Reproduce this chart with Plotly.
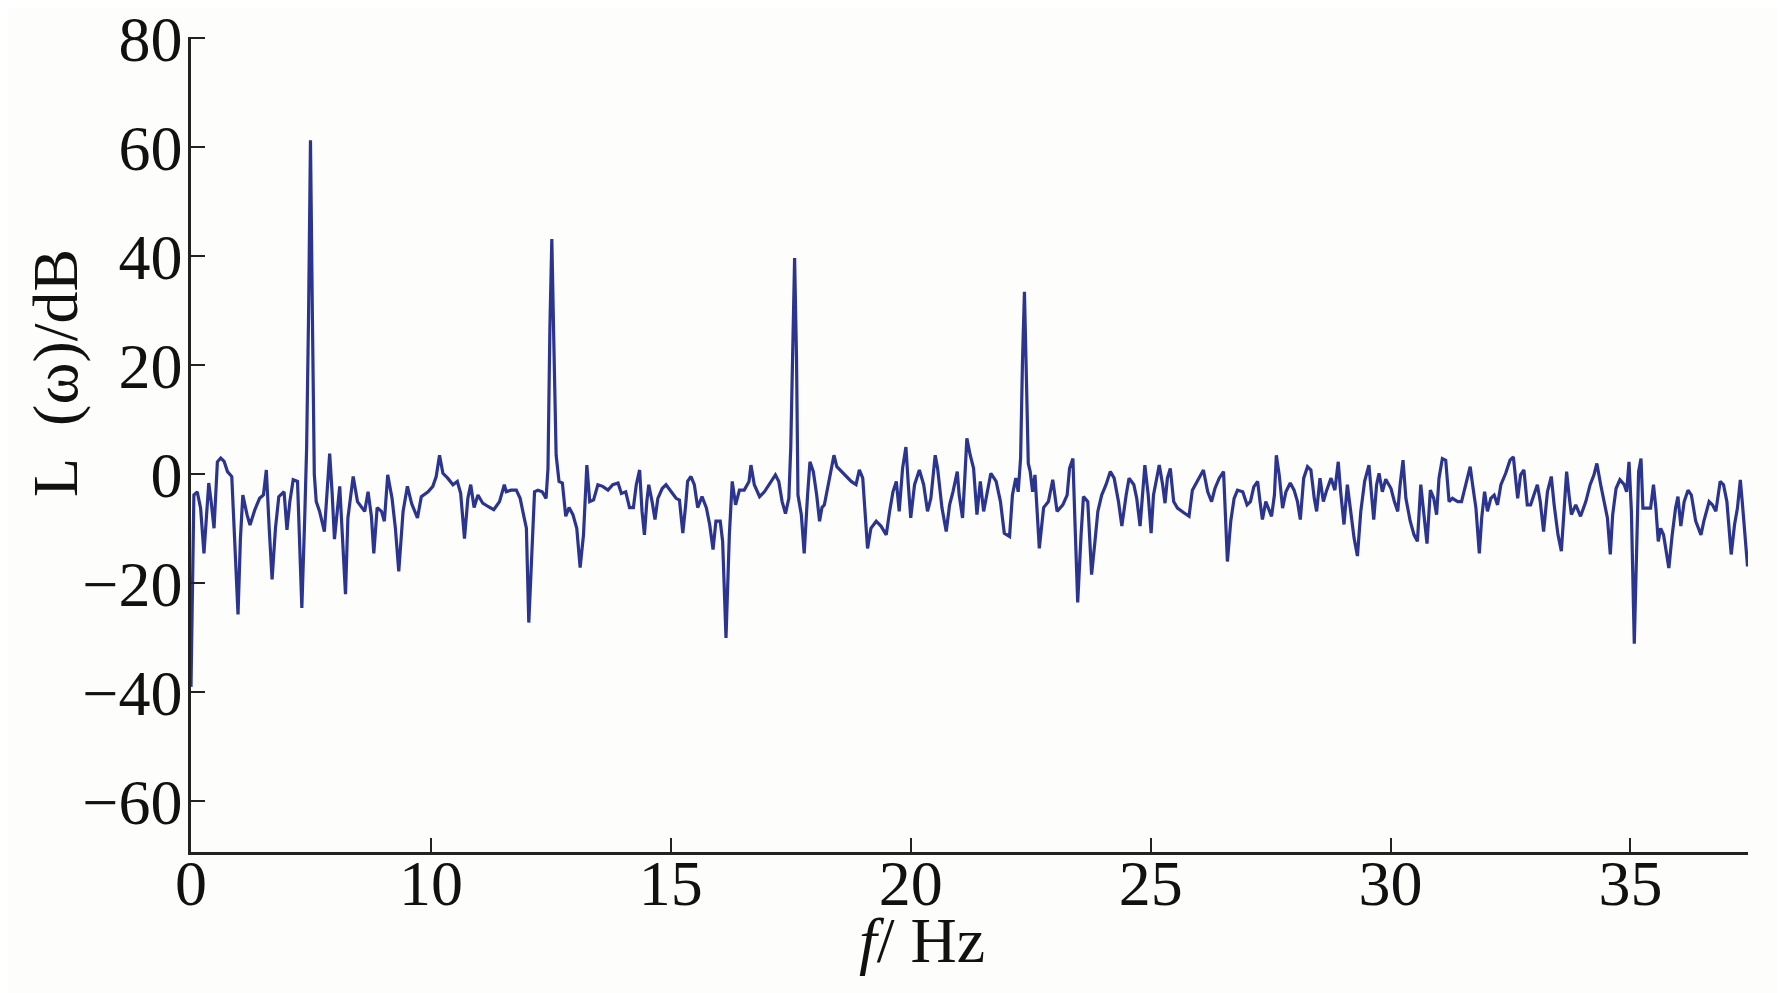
import plotly.graph_objects as go

# Frequency (Hz, linear axis positions) and level L(ω) in dB
freq_hz = [
    5.00, 5.06, 5.13, 5.20, 5.27, 5.32, 5.37, 5.42, 5.48, 5.55, 5.62, 5.69, 5.76, 5.85, 5.91, 5.98,
    6.03, 6.08, 6.17, 6.23, 6.33, 6.43, 6.51, 6.57, 6.63, 6.69, 6.76, 6.83, 6.94, 7.00, 7.06, 7.13,
    7.22, 7.26, 7.31, 7.37, 7.41, 7.45, 7.49, 7.53, 7.57, 7.61, 7.68, 7.78, 7.89, 7.94, 7.99, 8.10,
    8.15, 8.22, 8.27, 8.38, 8.47, 8.55, 8.62, 8.69, 8.76, 8.81, 8.88, 8.97, 9.03, 9.10, 9.19, 9.26,
    9.33, 9.42, 9.51, 9.60, 9.72, 9.80, 9.94, 10.04, 10.11, 10.18, 10.25, 10.35, 10.46, 10.55, 10.62,
    10.70, 10.77, 10.83, 10.90, 10.98, 11.08, 11.19, 11.31, 11.43, 11.53, 11.57, 11.67, 11.78, 11.86,
    11.93, 11.99, 12.04, 12.11, 12.16, 12.23, 12.32, 12.40, 12.44, 12.48, 12.52, 12.56, 12.61, 12.67,
    12.74, 12.81, 12.88, 12.96, 13.04, 13.11, 13.18, 13.25, 13.31, 13.39, 13.48, 13.58, 13.69, 13.79,
    13.90, 13.97, 14.06, 14.14, 14.22, 14.28, 14.35, 14.40, 14.45, 14.50, 14.54, 14.61, 14.67, 14.73,
    14.82, 14.90, 15.01, 15.11, 15.18, 15.25, 15.31, 15.35, 15.42, 15.49, 15.56, 15.65, 15.74, 15.81,
    15.88, 15.94, 16.03, 16.08, 16.15, 16.22, 16.28, 16.35, 16.43, 16.53, 16.63, 16.67, 16.74, 16.85,
    16.95, 17.06, 17.18, 17.25, 17.32, 17.39, 17.46, 17.50, 17.54, 17.58, 17.62, 17.65, 17.72, 17.78,
    17.85, 17.90, 17.97, 18.04, 18.10, 18.15, 18.20, 18.31, 18.40, 18.46, 18.56, 18.67, 18.76, 18.86,
    18.93, 19.00, 19.05, 19.10, 19.17, 19.28, 19.38, 19.49, 19.56, 19.63, 19.70, 19.76, 19.83, 19.90,
    19.95, 20.00, 20.08, 20.18, 20.27, 20.35, 20.42, 20.51, 20.56, 20.65, 20.74, 20.81, 20.88, 20.97,
    21.01, 21.08, 21.12, 21.17, 21.24, 21.31, 21.38, 21.45, 21.52, 21.59, 21.67, 21.78, 21.87, 21.95,
    22.06, 22.12, 22.19, 22.24, 22.29, 22.33, 22.37, 22.41, 22.45, 22.49, 22.54, 22.59, 22.68, 22.77,
    22.87, 22.96, 23.05, 23.17, 23.26, 23.31, 23.38, 23.42, 23.48, 23.55, 23.60, 23.69, 23.77, 23.84,
    23.90, 23.98, 24.07, 24.16, 24.24, 24.33, 24.40, 24.49, 24.55, 24.65, 24.71, 24.78, 24.83, 24.88,
    24.95, 25.01, 25.06, 25.13, 25.18, 25.25, 25.30, 25.35, 25.41, 25.48, 25.56, 25.70, 25.80, 25.87,
    25.98, 26.10, 26.19, 26.27, 26.34, 26.43, 26.52, 26.57, 26.60, 26.67, 26.74, 26.81, 26.92, 27.01,
    27.08, 27.15, 27.23, 27.28, 27.33, 27.40, 27.45, 27.52, 27.58, 27.62, 27.68, 27.75, 27.82, 27.91,
    27.99, 28.06, 28.12, 28.19, 28.27, 28.34, 28.41, 28.46, 28.53, 28.60, 28.67, 28.76, 28.84, 28.91,
    28.96, 29.03, 29.10, 29.17, 29.24, 29.31, 29.38, 29.46, 29.55, 29.65, 29.71, 29.76, 29.83, 29.90,
    30.01, 30.08, 30.15, 30.20, 30.26, 30.32, 30.41, 30.49, 30.56, 30.63, 30.69, 30.76, 30.83, 30.90,
    30.96, 31.01, 31.08, 31.15, 31.22, 31.29, 31.40, 31.48, 31.53, 31.60, 31.66, 31.71, 31.78, 31.85,
    31.90, 31.96, 32.02, 32.09, 32.16, 32.23, 32.30, 32.40, 32.49, 32.56, 32.65, 32.71, 32.78, 32.85,
    32.92, 33.01, 33.06, 33.12, 33.19, 33.27, 33.35, 33.41, 33.49, 33.56, 33.62, 33.67, 33.72, 33.77,
    33.86, 33.96, 34.07, 34.16, 34.24, 34.30, 34.38, 34.45, 34.52, 34.58, 34.63, 34.70, 34.78, 34.87,
    34.92, 34.97, 35.02, 35.08, 35.13, 35.17, 35.22, 35.26, 35.34, 35.42, 35.48, 35.53, 35.58, 35.63,
    35.69, 35.76, 35.80, 35.87, 35.94, 35.99, 36.05, 36.12, 36.20, 36.27, 36.36, 36.47, 36.53, 36.64,
    36.71, 36.78, 36.87, 36.94, 37.01, 37.10, 37.17, 37.23, 37.29, 37.33, 37.40, 37.44,
]
level_db = [
    -39.0, -3.8, -3.2, -6.2, -14.5, -6.8, -1.6, -5.0, -9.9, 2.3, 3.0, 2.4, 0.5, -0.4, -12.3, -25.7,
    -11.8, -3.8, -7.5, -9.3, -6.5, -4.4, -3.8, 0.8, -9.9, -19.3, -9.9, -4.1, -3.2, -10.2, -5.0, -1.0,
    -1.3, -12.3, -24.5, -8.0, 5.0, 29.0, 61.3, 29.0, 0.0, -5.0, -6.8, -10.5, 3.8, -3.2, -11.9, -2.2,
    -9.9, -22.0, -8.0, -0.4, -5.0, -5.9, -6.8, -3.2, -7.7, -14.5, -6.1, -6.8, -8.6, -0.1, -4.4, -9.9,
    -17.8, -6.8, -2.2, -5.4, -8.0, -4.1, -3.2, -2.2, -0.4, 3.5, 0.2, -0.7, -1.9, -1.3, -3.5,
    -11.8, -4.4, -1.9, -6.1, -3.8, -5.3, -5.9, -6.5, -5.0, -1.9, -3.2, -2.9, -2.9, -4.4,
    -7.4, -9.9, -27.2, -12.3, -3.2, -2.9, -3.2, -4.4, 1.1, 27.0, 43.2, 25.0, 3.5, -1.3,
    -1.6, -7.7, -6.1, -7.4, -9.9, -17.1, -11.1, 1.7, -5.0, -4.7, -1.9, -2.2, -2.9, -1.9,
    -1.6, -3.5, -3.2, -6.1, -6.1, -1.9, 0.8, -6.8, -11.1, -5.0, -1.9, -5.0, -8.3, -4.4,
    -2.6, -1.9, -3.2, -4.4, -4.7, -10.8, -5.6, -1.3, -0.4, -1.9, -6.1, -4.1, -6.1, -9.2,
    -13.8, -8.6, -8.6, -12.3, -30.0, -11.1, -1.3, -5.6, -2.9, -2.9, -1.3, 1.7, -1.9, -4.1,
    -3.2, -1.6, -0.1, -1.3, -5.0, -7.2, -4.4, 5.0, 24.0, 39.7, 21.0, -3.8, -7.4, -14.5,
    -3.8, 2.3, 0.5, -3.8, -8.6, -6.1, -5.6, -0.7, 3.5, 1.4, 0.5, -0.4, -1.3, -1.9,
    0.8, -0.7, -8.0, -13.6, -9.9, -8.6, -9.5, -11.1, -6.8, -3.2, -1.3, -6.8, 1.1, 5.0,
    -1.9, -8.0, -1.9, 0.8, -1.9, -6.8, -4.4, 3.5, 1.1, -6.1, -10.5, -5.6, -3.2, 0.5,
    -3.8, -8.0, -1.9, 6.6, 3.5, 1.1, -7.4, -1.3, -6.8, -3.2, 0.2, -1.3, -5.0, -10.8,
    -11.4, -3.8, -0.7, -3.2, 3.0, 21.0, 33.5, 18.0, 2.0, 0.5, -3.2, -0.1, -13.6, -6.1,
    -5.0, -1.0, -6.8, -5.6, -3.8, 1.1, 2.9, -8.0, -23.5, -11.1, -4.1, -5.0, -18.4, -12.3,
    -6.8, -3.8, -1.9, 0.5, -0.7, -5.0, -9.5, -3.8, -0.7, -1.9, -4.4, -9.5, -3.8, 1.7,
    -3.8, -10.8, -3.8, -0.1, 1.7, -1.9, -5.3, -0.7, 1.1, -5.0, -6.2, -7.1, -7.7, -2.9,
    -1.0, 0.8, -3.2, -5.0, -2.6, -0.7, 0.5, -11.1, -16.0, -8.6, -4.4, -2.9, -3.2, -5.6,
    -5.0, -2.3, -1.3, -5.0, -8.3, -5.0, -6.2, -7.7, -3.8, 3.5, -0.1, -6.2, -3.2, -1.6,
    -2.9, -5.0, -8.3, -0.7, 1.4, 0.8, -4.4, -6.8, -0.7, -5.0, -2.9, -0.7, -2.9, 2.3,
    -3.2, -9.2, -1.9, -6.8, -11.7, -15.0, -6.8, -1.3, 1.7, -8.3, -1.9, 0.2, -3.2, -0.9,
    -2.6, -5.0, -6.8, -1.9, 2.6, -4.4, -8.6, -11.1, -12.3, -1.9, -6.8, -12.7, -2.9, -4.4,
    -7.4, -0.7, 2.9, 2.6, -5.0, -4.4, -5.0, -5.0, -3.2, -1.0, 1.4, -1.9, -6.2, -14.5,
    -8.0, -3.2, -6.8, -4.4, -3.8, -5.6, -1.9, 0.2, 2.6, 3.2, -4.4, -0.1, 0.8, -5.6,
    -5.6, -3.2, -1.9, -5.0, -10.5, -3.2, -0.4, -5.6, -11.1, -14.1, -6.8, 0.5, -3.8, -7.4,
    -5.6, -7.7, -5.0, -1.9, -0.1, 2.0, -1.9, -5.0, -8.0, -14.7, -7.4, -2.6, -1.0, -1.9,
    -3.2, 2.3, -6.8, -31.1, -15.3, 0.5, 2.9, -6.2, -6.2, -6.2, -1.9, -6.2, -12.3, -9.9,
    -11.1, -14.7, -17.2, -11.1, -6.2, -4.1, -9.5, -5.0, -2.9, -3.8, -8.6, -11.1, -8.6, -5.0,
    -5.6, -6.8, -1.3, -1.9, -5.0, -14.7, -9.2, -6.2, -1.0, -5.0, -12.3, -16.9,
]

x_tick_vals = [5, 10, 15, 20, 25, 30, 35]
x_tick_text = ["0", "10", "15", "20", "25", "30", "35"]
y_tick_vals = [-60, -40, -20, 0, 20, 40, 60, 80]
x_title = "<i>f</i>/ Hz"
y_title = "L\u2002(ω)/dB"

FONT = "Liberation Serif, Times New Roman, serif"
FS = 64

# target plot box in page pixels (page has an 8px body margin)
BODY = 8
PL, PR, PT, PB = 191, 1748, 37, 852
W, H = 1786, 993

fig = go.Figure()
fig.add_trace(go.Scatter(
    x=freq_hz, y=level_db, mode="lines",
    line=dict(color="#2b3590", width=3.2),
    showlegend=False, hoverinfo="skip",
))

fig.update_layout(
    width=W, height=H,
    paper_bgcolor="#fdfdfb", plot_bgcolor="#fdfdfb",
    margin=dict(l=PL - BODY, r=W + BODY - PR, t=PT - BODY, b=H + BODY - PB),
    font=dict(family=FONT, color="#111111", size=FS),
)
fig.update_xaxes(
    range=[5, 37.45], tickmode="array", tickvals=x_tick_vals, ticktext=x_tick_text,
    showgrid=False, zeroline=False, showline=True, linecolor="#222222", linewidth=2.5,
    ticks="inside", ticklen=14, tickwidth=2, tickcolor="#222222",
    tickfont=dict(family=FONT, size=FS), automargin=False, ticklabelstandoff=-27,
    ticklabeloverflow="allow",
)
fig.update_yaxes(
    range=[-69.3, 80.25], tickmode="array", tickvals=y_tick_vals,
    showgrid=False, zeroline=False, showline=True, linecolor="#222222", linewidth=2.5,
    ticks="inside", ticklen=14, tickwidth=2, tickcolor="#222222",
    tickfont=dict(family=FONT, size=FS), automargin=False, ticklabelstandoff=-7,
    ticklabeloverflow="allow",
)
fig.add_annotation(
    text=x_title, xref="paper", yref="paper",
    x=(922 - PL) / (PR - PL), y=-(940 - PB) / (PB - PT),
    showarrow=False, xanchor="center", yanchor="middle", font=dict(family=FONT, size=FS),
)
fig.add_annotation(
    text=y_title, xref="paper", yref="paper",
    x=-(PL - 56) / (PR - PL), y=(PB - 373) / (PB - PT),
    showarrow=False, xanchor="center", yanchor="middle", textangle=-90, font=dict(family=FONT, size=FS),
)

fig.write_html("out.html")
